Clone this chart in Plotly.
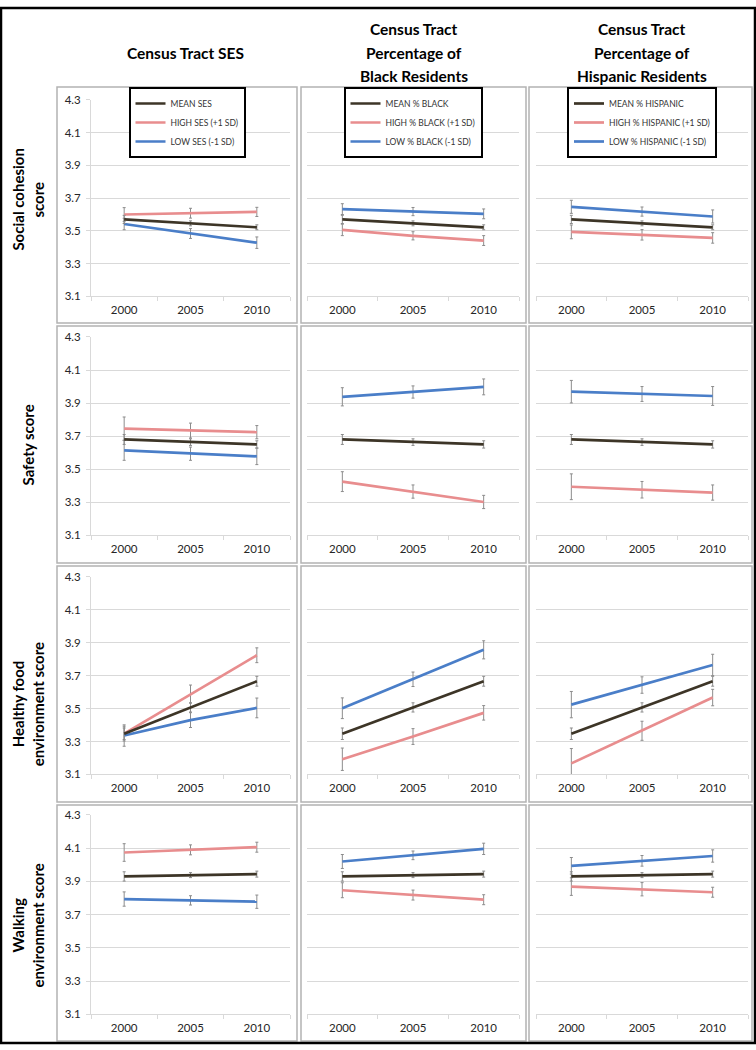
import plotly.graph_objects as go

# ---------------- data ----------------
years = ["2000", "2005", "2010"]
col_titles = [["Census Tract SES"],
              ["Census Tract", "Percentage of", "Black Residents"],
              ["Census Tract", "Percentage of", "Hispanic Residents"]]
row_titles = [["Social cohesion", "score"], ["Safety score"],
              ["Healthy food", "environment score"], ["Walking", "environment score"]]
legend_names = [["MEAN SES", "HIGH SES (+1 SD)", "LOW SES (-1 SD)"],
                ["MEAN % BLACK", "HIGH % BLACK (+1 SD)", "LOW % BLACK (-1 SD)"],
                ["MEAN % HISPANIC", "HIGH % HISPANIC (+1 SD)", "LOW % HISPANIC (-1 SD)"]]
y_ticks = [3.1, 3.3, 3.5, 3.7, 3.9, 4.1, 4.3]

# Social cohesion
coh_mean = [3.570, 3.546, 3.522]
coh_mean_err = [0.025, 0.015, 0.015]
coh_ses_high = [3.600, 3.608, 3.616]
coh_ses_high_err = [0.042, 0.030, 0.028]
coh_ses_low = [3.542, 3.484, 3.428]
coh_ses_low_err = [0.035, 0.030, 0.035]
coh_blk_high = [3.506, 3.470, 3.441]
coh_blk_high_err = [0.035, 0.025, 0.030]
coh_blk_low = [3.633, 3.618, 3.604]
coh_blk_low_err = [0.033, 0.025, 0.030]
coh_his_high = [3.494, 3.476, 3.457]
coh_his_high_err = [0.042, 0.032, 0.032]
coh_his_low = [3.647, 3.618, 3.588]
coh_his_low_err = [0.040, 0.028, 0.040]

# Safety
saf_mean = [3.680, 3.664, 3.650]
saf_mean_err = [0.030, 0.020, 0.022]
saf_ses_high = [3.746, 3.734, 3.724]
saf_ses_high_err = [0.070, 0.045, 0.040]
saf_ses_low = [3.614, 3.594, 3.578]
saf_ses_low_err = [0.060, 0.040, 0.050]
saf_blk_high = [3.425, 3.365, 3.302]
saf_blk_high_err = [0.060, 0.040, 0.040]
saf_blk_low = [3.938, 3.967, 3.998]
saf_blk_low_err = [0.055, 0.037, 0.048]
saf_his_high = [3.394, 3.376, 3.359]
saf_his_high_err = [0.078, 0.050, 0.046]
saf_his_low = [3.969, 3.955, 3.943]
saf_his_low_err = [0.068, 0.045, 0.057]

# Healthy food environment
food_mean = [3.347, 3.507, 3.666]
food_mean_err = [0.035, 0.028, 0.030]
food_ses_high = [3.348, 3.588, 3.824]
food_ses_high_err = [0.045, 0.055, 0.045]
food_ses_low = [3.336, 3.430, 3.504]
food_ses_low_err = [0.065, 0.045, 0.060]
food_blk_high = [3.192, 3.330, 3.474]
food_blk_high_err = [0.068, 0.048, 0.044]
food_blk_low = [3.502, 3.678, 3.857]
food_blk_low_err = [0.063, 0.044, 0.055]
food_his_high = [3.167, 3.365, 3.567]
food_his_high_err = [0.090, 0.058, 0.050]
food_his_low = [3.524, 3.643, 3.765]
food_his_low_err = [0.080, 0.050, 0.065]

# Walking environment
walk_mean = [3.930, 3.938, 3.944]
walk_mean_err = [0.028, 0.015, 0.018]
walk_ses_high = [4.074, 4.090, 4.106]
walk_ses_high_err = [0.053, 0.030, 0.030]
walk_ses_low = [3.794, 3.786, 3.778]
walk_ses_low_err = [0.043, 0.028, 0.040]
walk_blk_high = [3.847, 3.818, 3.790]
walk_blk_high_err = [0.045, 0.030, 0.030]
walk_blk_low = [4.020, 4.057, 4.096]
walk_blk_low_err = [0.042, 0.026, 0.034]
walk_his_high = [3.869, 3.853, 3.835]
walk_his_high_err = [0.053, 0.040, 0.030]
walk_his_low = [3.994, 4.024, 4.053]
walk_his_low_err = [0.050, 0.032, 0.037]

rows = [
    (coh_mean, coh_mean_err,
     [(coh_ses_high, coh_ses_high_err, coh_ses_low, coh_ses_low_err),
      (coh_blk_high, coh_blk_high_err, coh_blk_low, coh_blk_low_err),
      (coh_his_high, coh_his_high_err, coh_his_low, coh_his_low_err)]),
    (saf_mean, saf_mean_err,
     [(saf_ses_high, saf_ses_high_err, saf_ses_low, saf_ses_low_err),
      (saf_blk_high, saf_blk_high_err, saf_blk_low, saf_blk_low_err),
      (saf_his_high, saf_his_high_err, saf_his_low, saf_his_low_err)]),
    (food_mean, food_mean_err,
     [(food_ses_high, food_ses_high_err, food_ses_low, food_ses_low_err),
      (food_blk_high, food_blk_high_err, food_blk_low, food_blk_low_err),
      (food_his_high, food_his_high_err, food_his_low, food_his_low_err)]),
    (walk_mean, walk_mean_err,
     [(walk_ses_high, walk_ses_high_err, walk_ses_low, walk_ses_low_err),
      (walk_blk_high, walk_blk_high_err, walk_blk_low, walk_blk_low_err),
      (walk_his_high, walk_his_high_err, walk_his_low, walk_his_low_err)]),
]

# ---------------- style / layout ----------------
W, H = 756, 1050
FONT = "Lato, 'Open Sans', sans-serif"
C_MEAN = "#3d3527"
C_HIGH = "#e88d8e"
C_LOW = "#4a7ec8"
C_ERR = "#8c8c8c"
GRID = "#d9d9d9"
BOX = "#b3b3b3"

col_px = [(91, 290), (307, 519), (536, 748)]
row_px = [(94, 293), (334, 535), (577, 777), (818, 1020)]
col_box = [(57, 297), (301, 526), (529, 752)]
row_box = [(81, 320), (323, 563), (566, 805), (808, 1047)]
legend_cx = [187, 413, 642]


def px(x):
    return x / W


def py(y):
    return 1 - y / H


fig = go.Figure()
layout = {}
legend_keys = ["legend", "legend2", "legend3"]

for r, (mean, mean_err, cols) in enumerate(rows):
    for c, (hi, hi_err, lo, lo_err) in enumerate(cols):
        idx = r * 3 + c + 1
        xa = "x" if idx == 1 else f"x{idx}"
        ya = "y" if idx == 1 else f"y{idx}"
        show = r == 0
        names = legend_names[c]
        series = [(hi, hi_err, C_HIGH, names[1], 2),
                  (lo, lo_err, C_LOW, names[2], 3),
                  (mean, mean_err, C_MEAN, names[0], 1)]
        for vals, errs, color, name, rank in series:
            fig.add_trace(go.Scatter(
                x=years, y=vals, mode="lines", name=name,
                line=dict(color=color, width=2.7),
                error_y=dict(type="data", array=errs, color=C_ERR,
                             thickness=1, width=1.5),
                xaxis=xa, yaxis=ya, showlegend=show,
                legend=legend_keys[c], legendrank=rank,
                hoverinfo="skip"))
        xk = "xaxis" if idx == 1 else f"xaxis{idx}"
        yk = "yaxis" if idx == 1 else f"yaxis{idx}"
        layout[xk] = dict(
            domain=[px(col_px[c][0]), px(col_px[c][1])],
            anchor=ya, type="category", categoryorder="array",
            categoryarray=years, range=[-0.5, 2.5], tickson="boundaries",
            ticks="outside", ticklen=4, tickcolor=GRID,
            showline=True, linecolor=GRID, linewidth=1,
            showgrid=False, zeroline=False, fixedrange=True,
            ticklabelstandoff=3,
            tickfont=dict(family=FONT, size=11.5, color="#262626"))
        layout[yk] = dict(
            domain=[py(row_px[r][1]), py(row_px[r][0])],
            anchor=xa, range=[3.1, 4.3005], tickvals=y_ticks,
            tickformat=".1f", showgrid=True, gridcolor=GRID, gridwidth=1,
            zeroline=False, fixedrange=True,
            showticklabels=(c == 0),
            ticks="outside" if c == 0 else "", ticklen=4, tickcolor=GRID,
            showline=(c == 0), linecolor=GRID, linewidth=1,
            ticklabelstandoff=3,
            tickfont=dict(family=FONT, size=11.5, color="#262626"))

for c in range(3):
    layout[legend_keys[c]] = dict(
        x=px(legend_cx[c]), y=py(81), xanchor="center", yanchor="top",
        bgcolor="white", bordercolor="black", borderwidth=2,
        font=dict(family=FONT, size=8.5, color="#333333"),
        tracegroupgap=0, itemwidth=30, traceorder="normal")

shapes = []
for (x0, x1) in col_box:
    for (y0, y1) in row_box:
        shapes.append(dict(type="rect", xref="paper", yref="paper",
                           x0=px(x0), x1=px(x1), y0=py(y1), y1=py(y0),
                           line=dict(color=BOX, width=1.5), layer="below"))
shapes.append(dict(type="rect", xref="paper", yref="paper",
                   x0=px(1), x1=px(755), y0=py(1049), y1=py(1),
                   line=dict(color="black", width=2.5)))

annotations = []
header_cx = [185, 414, 642]
header_y = {1: [47], 3: [22, 47, 70]}
for c, lines in enumerate(col_titles):
    for text, yy in zip(lines, header_y[len(lines)]):
        annotations.append(dict(
            text=f"<b>{text}</b>", x=px(header_cx[c]), y=py(yy),
            xref="paper", yref="paper", showarrow=False,
            xanchor="center", yanchor="middle",
            font=dict(family=FONT, size=15.5, color="black")))

row_label_x = {1: [28], 2: [18, 38]}
row_label_y = [195, 444, 706, 930]
for r, lines in enumerate(row_titles):
    for text, xx in zip(lines, row_label_x[len(lines)]):
        annotations.append(dict(
            text=f"<b>{text}</b>", x=px(xx), y=py(row_label_y[r]),
            xref="paper", yref="paper", showarrow=False, textangle=-90,
            xanchor="center", yanchor="middle",
            font=dict(family=FONT, size=15, color="black")))

fig.update_layout(
    width=W, height=H, autosize=False,
    margin=dict(l=0, r=0, t=0, b=0),
    paper_bgcolor="white", plot_bgcolor="white",
    shapes=shapes, annotations=annotations,
    **layout)

fig.write_html(
    "out.html",
    config={"displayModeBar": False, "staticPlot": True},
    post_script="document.body.style.margin='0';"
                "document.body.style.overflow='hidden';")
